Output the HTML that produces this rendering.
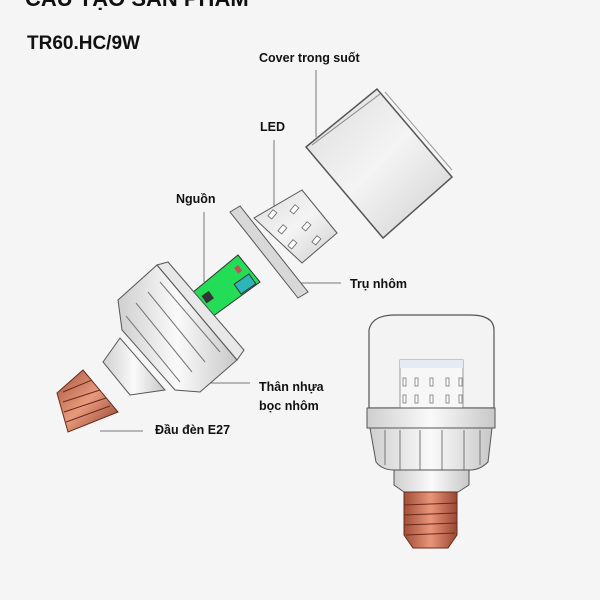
<!DOCTYPE html>
<html><head><meta charset="utf-8"><style>
html,body{margin:0;padding:0;background:#f5f5f5;}
svg{display:block}
text{font-family:"Liberation Sans",sans-serif;font-weight:bold;fill:#111}
</style></head><body>
<svg width="600" height="600" viewBox="0 0 600 600" xmlns="http://www.w3.org/2000/svg">
<defs>
<linearGradient id="cu" x1="0" y1="0" x2="1" y2="1"><stop offset="0" stop-color="#a4553e"/><stop offset=".5" stop-color="#e89a7c"/><stop offset="1" stop-color="#8b3f2c"/></linearGradient>
<linearGradient id="cu2" x1="0" y1="0" x2="1" y2="0"><stop offset="0" stop-color="#a24e38"/><stop offset=".5" stop-color="#e8957a"/><stop offset="1" stop-color="#9a4632"/></linearGradient>
<linearGradient id="wh" x1="0" y1="0" x2="1" y2="0"><stop offset="0" stop-color="#cfcfcf"/><stop offset=".5" stop-color="#fafafa"/><stop offset="1" stop-color="#c8c8c8"/></linearGradient>
<linearGradient id="cv" x1="0" y1="0" x2="1" y2="1"><stop offset="0" stop-color="#dcdcdc"/><stop offset=".5" stop-color="#f4f4f4"/><stop offset="1" stop-color="#cfcfcf"/></linearGradient>
</defs>
<rect width="600" height="600" fill="#f5f5f5"/>
<text x="25" y="6" font-size="22">CẤU TẠO SẢN PHẨM</text>
<text x="27" y="49" font-size="19">TR60.HC/9W</text>

<g font-size="12.5">
<text x="259" y="62">Cover trong suốt</text>
<text x="260" y="131">LED</text>
<text x="176" y="203">Nguồn</text>
<text x="350" y="288">Trụ nhôm</text>
<text x="259" y="391">Thân nhựa</text>
<text x="259" y="410">bọc nhôm</text>
<text x="155" y="434">Đầu đèn E27</text>
</g>
<g stroke="#777" stroke-width="1" fill="none">
<line x1="316" y1="70" x2="316" y2="137"/>
<line x1="274" y1="140" x2="274" y2="212"/>
<line x1="204" y1="212" x2="204" y2="282"/>
<line x1="300" y1="283" x2="341" y2="283"/>
<line x1="200" y1="383" x2="250" y2="383"/>
<line x1="100" y1="431" x2="143" y2="431"/>
</g>

<!-- cover -->
<polygon points="306,147 377,89 452,177 383,238" fill="url(#cv)" stroke="#555" stroke-width="1.5"/>
<polyline points="312,145 380,94" stroke="#888" fill="none"/>
<polyline points="385,92 452,170" stroke="#999" fill="none"/>

<!-- flange + led -->
<polygon points="230,212 240,206 308,292 298,298" fill="#d8d8d8" stroke="#555"/>
<polygon points="254,218 302,190 337,233 302,263" fill="url(#cv)" stroke="#555"/>
<g fill="#fff" stroke="#666" stroke-width=".8">
<rect x="270" y="210" width="5" height="8" transform="rotate(40 272 214)"/>
<rect x="292" y="205" width="5" height="8" transform="rotate(40 294 209)"/>
<rect x="280" y="225" width="5" height="8" transform="rotate(40 282 229)"/>
<rect x="304" y="222" width="5" height="8" transform="rotate(40 306 226)"/>
<rect x="290" y="240" width="5" height="8" transform="rotate(40 292 244)"/>
<rect x="314" y="236" width="5" height="8" transform="rotate(40 316 240)"/>
</g>

<!-- PCB -->
<polygon points="192,293 238,255 260,282 212,317" fill="#22dd55" stroke="#333"/>
<rect x="236" y="278" width="18" height="12" fill="#2bb7b7" stroke="#333" transform="rotate(-35 245 284)"/>
<rect x="203" y="293" width="9" height="9" fill="#333" transform="rotate(-35 207 297)"/>
<rect x="236" y="266" width="5" height="7" fill="#b55" transform="rotate(-35 238 270)"/>

<!-- body -->
<polygon points="103,362 120,338 165,390 130,395" fill="url(#wh)" stroke="#555"/>
<polygon points="118,300 157,265 237,360 200,392 175,390 122,330" fill="url(#wh)" stroke="#555"/>
<polygon points="157,265 168,262 244,350 237,360" fill="#e8e8e8" stroke="#555"/>
<g stroke="#777">
<line x1="148" y1="292" x2="205" y2="362"/><line x1="160" y1="282" x2="220" y2="352"/>
<line x1="136" y1="303" x2="192" y2="372"/><line x1="126" y1="316" x2="180" y2="382"/>
</g>
<!-- E27 -->
<polygon points="57,393 83,370 118,412 68,432" fill="url(#cu)" stroke="#6a2a1c"/>
<g stroke="#6a2a1c"><line x1="63" y1="392" x2="92" y2="380"/><line x1="63" y1="402" x2="100" y2="390"/><line x1="64" y1="412" x2="106" y2="398"/><line x1="66" y1="422" x2="110" y2="406"/></g>

<!-- assembled bulb -->
<path d="M369,330 Q372,315 395,315 L470,315 Q494,315 494,330 L494,408 L369,408 Z" fill="#f3f3f3" stroke="#555" stroke-width="1.2"/>
<rect x="400" y="360" width="63" height="48" fill="#f7f7f7" stroke="#999"/>
<rect x="400" y="360" width="63" height="8" fill="#e6eaf2"/>
<g fill="#fff" stroke="#777" stroke-width=".8">
<rect x="403" y="378" width="3" height="8"/><rect x="415" y="378" width="3" height="8"/><rect x="430" y="378" width="3" height="8"/><rect x="446" y="378" width="3" height="8"/><rect x="459" y="378" width="3" height="8"/>
<rect x="403" y="395" width="3" height="8"/><rect x="415" y="395" width="3" height="8"/><rect x="430" y="395" width="3" height="8"/><rect x="446" y="395" width="3" height="8"/><rect x="459" y="395" width="3" height="8"/>
</g>
<rect x="367" y="408" width="128" height="20" fill="url(#wh)" stroke="#555"/>
<path d="M370,428 L492,428 L488,462 Q480,470 470,470 L394,470 Q382,470 376,462 Z" fill="url(#wh)" stroke="#555"/>
<g stroke="#777"><line x1="385" y1="430" x2="385" y2="465"/><line x1="400" y1="430" x2="400" y2="470"/><line x1="420" y1="430" x2="420" y2="470"/><line x1="442" y1="430" x2="442" y2="470"/><line x1="464" y1="430" x2="464" y2="470"/><line x1="480" y1="430" x2="480" y2="465"/></g>
<path d="M394,470 L469,470 L469,485 L458,492 L404,492 L394,485 Z" fill="url(#wh)" stroke="#555"/>
<path d="M404,492 L457,492 L457,535 L448,548 L413,548 L404,535 Z" fill="url(#cu2)" stroke="#6a2a1c"/>
<g stroke="#6a2a1c"><line x1="404" y1="505" x2="457" y2="503"/><line x1="404" y1="515" x2="457" y2="513"/><line x1="404" y1="525" x2="457" y2="523"/><line x1="406" y1="535" x2="455" y2="533"/></g>
</svg>
</body></html>
